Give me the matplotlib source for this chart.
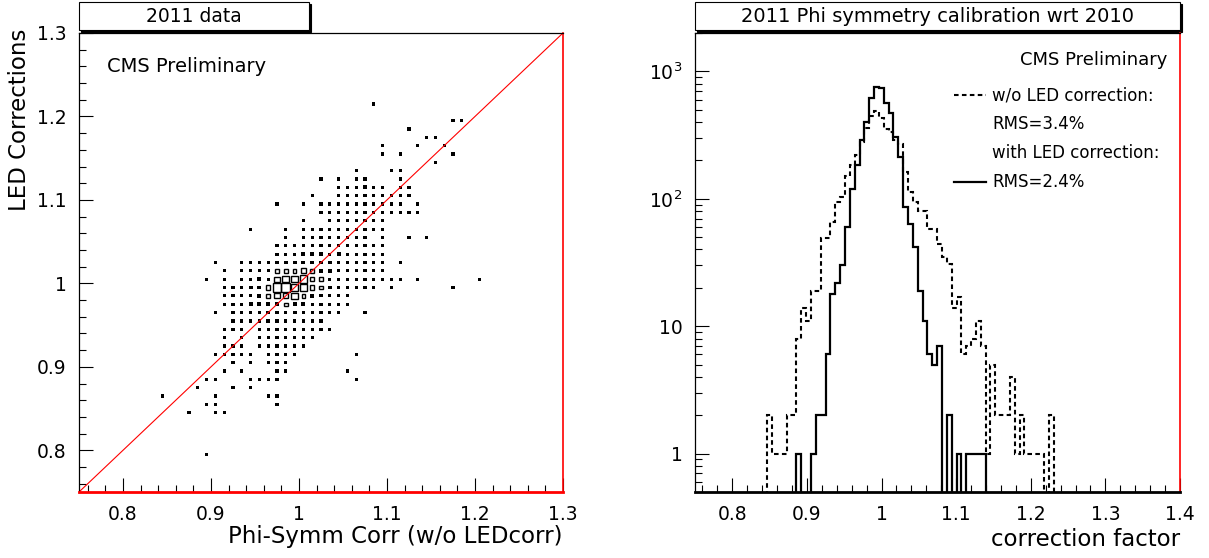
import matplotlib.pyplot as plt
import numpy as np
from matplotlib.patches import Rectangle
from matplotlib.collections import PatchCollection
from matplotlib.lines import Line2D
from matplotlib.ticker import MultipleLocator, FixedLocator, FixedFormatter, LogLocator, NullFormatter

plt.rcParams['font.family'] = ['DejaVu Sans']

# --- left panel: 2D histogram, 0.01 bins, code 97 -> bin 0.97..0.98 ---
# y bin code -> x bin codes of filled cells
cell_rows = {
    121: [108],
    119: [117, 118],
    118: [112],
    117: [114, 115],
    116: [109, 113, 116],
    115: [109, 111, 117],
    114: [115],
    113: [106, 110, 111],
    112: [102, 104, 106, 107, 111],
    111: [104, 105, 106, 107, 108, 109, 111, 112],
    110: [101, 104, 105, 106, 107, 108, 109, 110, 111, 112],
    109: [97, 100, 102, 103, 104, 105, 106, 107, 108, 109, 110, 111, 113],
    108: [102, 103, 104, 105, 106, 107, 108, 109, 110, 111, 112, 113],
    107: [100, 103, 104, 105, 106, 107, 108, 109],
    106: [94, 98, 100, 101, 102, 103, 104, 105, 106, 107, 108, 109],
    105: [98, 100, 101, 102, 103, 104, 105, 106, 107, 109, 112, 114],
    104: [97, 98, 99, 100, 101, 102, 103, 104, 105, 106, 107, 108, 109],
    103: [97, 98, 99, 100, 101, 102, 103, 104, 105, 106, 107, 108, 109],
    102: [90, 93, 94, 95, 96, 97, 98, 99, 100, 101, 102, 103, 104, 105, 106, 107, 108, 109, 111],
    101: [91, 93, 94, 95, 96, 97, 98, 99, 100, 101, 102, 103, 104, 105, 106, 107, 108, 109],
    100: [89, 91, 93, 94, 95, 96, 97, 98, 99, 100, 101, 102, 103, 104, 105, 106, 107, 108, 109,
          110, 111, 113, 120],
    99: [91, 92, 93, 94, 95, 96, 97, 98, 99, 100, 101, 102, 103, 104, 105, 106, 107, 108, 110, 117],
    98: [91, 92, 93, 94, 95, 96, 97, 98, 99, 100, 101, 102, 103, 104, 105],
    97: [91, 92, 93, 94, 95, 96, 97, 98, 99, 100, 101, 102, 103, 104, 105],
    96: [90, 92, 93, 94, 95, 96, 97, 98, 99, 100, 101, 102, 103, 104, 107],
    95: [92, 93, 94, 95, 96, 97, 98, 99, 100, 101, 102],
    94: [91, 92, 93, 95, 96, 97, 98, 99, 100, 101, 102, 103],
    93: [91, 93, 95, 96, 97, 98, 99, 100, 101],
    92: [91, 92, 93, 95, 96, 97, 98, 99, 100],
    91: [90, 91, 92, 93, 94, 96, 97, 98, 99, 106],
    90: [92, 94, 96, 97, 98],
    89: [91, 93, 97, 98, 105],
    88: [89, 90, 94, 95, 96, 97, 106],
    87: [88, 92, 94],
    86: [84, 90, 96, 97],
    85: [89, 90, 97],
    84: [87, 90, 91],
    79: [89],
}

# cells with more than one entry: (x code, y code) -> entries
cell_counts = {
    (107, 111): 2,
    (100, 103): 2, (101, 103): 2, (102, 103): 2, (104, 103): 2,
    (98, 102): 2, (99, 102): 2, (100, 102): 2, (101, 102): 2, (102, 102): 2, (103, 102): 2,
    (97, 101): 3, (98, 101): 3, (99, 101): 3, (100, 101): 5, (101, 101): 3, (102, 101): 2,
    (103, 101): 2,
    (95, 100): 2, (97, 100): 5, (98, 100): 7, (99, 100): 7, (100, 100): 8, (101, 100): 4,
    (102, 100): 3,
    (94, 99): 2, (95, 99): 2, (96, 99): 4, (97, 99): 9, (98, 99): 9, (99, 99): 8, (100, 99): 8,
    (101, 99): 4, (102, 99): 3, (103, 99): 2,
    (95, 98): 2, (96, 98): 3, (97, 98): 5, (98, 98): 5, (99, 98): 7, (100, 98): 3, (101, 98): 2,
    (94, 97): 2, (95, 97): 2, (96, 97): 2, (97, 97): 2, (98, 97): 3, (99, 97): 2, (100, 97): 2,
    (96, 96): 2, (97, 96): 2, (99, 96): 2,
    (96, 95): 2,
}

# --- right panel: 1D histograms (bins of 0.0065 starting at 0.8405) ---
bin_width = 0.0065
first_edge = 0.8405
counts_no_led = [0, 2, 1, 1, 1, 2, 2, 8, 14, 11, 19, 19, 49, 49, 66, 94, 103, 150, 184, 222,
                 280, 358, 449, 491, 430, 355, 336, 290, 270, 161, 114, 94, 80, 80, 58, 58, 44,
                 35, 31, 14, 17, 6, 7, 8, 11, 7, 1, 5, 2, 2, 2, 4, 1, 2, 1, 1, 1, 1, 0, 2, 0]
counts_with_led = [0, 0, 0, 0, 0, 0, 0, 1, 0, 0, 1, 2, 2, 6, 18, 22, 30, 60, 119, 185,
                   291, 398, 615, 758, 735, 562, 469, 307, 211, 86, 63, 42, 19, 11, 6, 5, 7,
                   0, 2, 0, 1, 0, 1, 1, 1, 1, 0, 0, 0, 0, 0, 0, 0, 0, 0, 0, 0, 0, 0, 0, 0]

fig = plt.figure(figsize=(12.09, 5.58), dpi=100)
ax1 = fig.add_axes([79 / 1209, 66 / 558, 484 / 1209, 459 / 558])
ax2 = fig.add_axes([695 / 1209, 66 / 558, 485 / 1209, 459 / 558])

# left: box plot of the 2D histogram (box side grows with the cell content)
small_boxes = []
big_boxes = []
for yc, xs in cell_rows.items():
    for xc in xs:
        n = cell_counts.get((xc, yc), 1)
        cx = (xc + 0.5) / 100
        cy = (yc + 0.5) / 100
        if n <= 2:
            # tiny boxes look solid in the original
            side = (0.38 + 0.08 * (n - 1)) * 0.01
            small_boxes.append(Rectangle((cx - side / 2, cy - side / 2), side, side))
        else:
            side = min(0.22 + 0.095 * (n - 1), 0.98) * 0.01
            big_boxes.append(Rectangle((cx - side / 2, cy - side / 2), side, side))
ax1.add_collection(PatchCollection(small_boxes, facecolors='black', edgecolors='none',
                                   linewidths=0))
ax1.add_collection(PatchCollection(big_boxes, facecolors='none', edgecolors='black',
                                   linewidths=1.0, joinstyle='miter'))
ax1.plot([0.75, 1.3], [0.75, 1.3], color='red', lw=0.8)

ax1.set_xlim(0.75, 1.3)
ax1.set_ylim(0.75, 1.3)
ticks = [0.8, 0.9, 1.0, 1.1, 1.2, 1.3]
tick_labels = ['0.8', '0.9', '1', '1.1', '1.2', '1.3']
ax1.set_xticks(ticks, tick_labels)
ax1.set_yticks(ticks, tick_labels)
ax1.xaxis.set_minor_locator(MultipleLocator(0.02))
ax1.yaxis.set_minor_locator(MultipleLocator(0.02))
ax1.set_xlabel('Phi-Symm Corr (w/o LEDcorr)', fontsize=16.5, ha='right')
ax1.xaxis.set_label_coords(1.0, -0.072)
ax1.set_ylabel('LED Corrections', fontsize=16.5, ha='right')
ax1.yaxis.set_label_coords(-0.10, 1.01)
ax1.text(0.057, 0.926, 'CMS Preliminary', transform=ax1.transAxes, fontsize=14, va='center')

# right: the two histograms
edges = first_edge + bin_width * np.arange(len(counts_no_led) + 1)
ax2.stairs(counts_no_led, edges, color='black', lw=1.5, linestyle=(0, (2.2, 1.6)))
ax2.stairs(counts_with_led, edges, color='black', lw=1.6)
ax2.set_yscale('log', nonpositive='clip')
ax2.set_xlim(0.75, 1.4)
ax2.set_ylim(0.5, 2000)
ax2.set_xticks([0.8, 0.9, 1.0, 1.1, 1.2, 1.3, 1.4],
               ['0.8', '0.9', '1', '1.1', '1.2', '1.3', '1.4'])
ax2.xaxis.set_minor_locator(MultipleLocator(0.02))
ax2.yaxis.set_major_locator(FixedLocator([1, 10, 100, 1000]))
ax2.yaxis.set_major_formatter(FixedFormatter(['1', '10', '$10^{2}$', '$10^{3}$']))
ax2.yaxis.set_minor_locator(LogLocator(base=10, subs=np.arange(2, 10), numticks=20))
ax2.yaxis.set_minor_formatter(NullFormatter())
ax2.set_xlabel('correction factor', fontsize=16.5, ha='right')
ax2.xaxis.set_label_coords(1.0, -0.078)
ax2.text(0.975, 0.941, 'CMS Preliminary', transform=ax2.transAxes, fontsize=13,
         ha='right', va='center')

handles = [Line2D([], [], color='black', lw=1.5, linestyle=(0, (2.2, 1.6))),
           Line2D([], [], color='none'),
           Line2D([], [], color='none'),
           Line2D([], [], color='black', lw=1.6)]
labels = ['w/o LED correction:', 'RMS=3.4%', 'with LED correction:', 'RMS=2.4%']
ax2.legend(handles, labels, loc='upper left', bbox_to_anchor=(0.52, 0.898), frameon=False,
           fontsize=12, handlelength=1.9, handletextpad=0.4, labelspacing=0.66,
           borderaxespad=0)

for ax in (ax1, ax2):
    ax.tick_params(which='both', direction='in', top=False, right=False, labelsize=13.5,
                   width=0.8)
    ax.tick_params(which='major', length=10, pad=9)
    ax.tick_params(which='minor', length=5)
    ax.spines['left'].set_linewidth(0.9)
    ax.spines['top'].set_linewidth(0.9)
    ax.spines['right'].set_color('red')
    ax.spines['right'].set_linewidth(1.2)

ax1.spines['bottom'].set_color('red')
ax1.spines['bottom'].set_linewidth(2.0)
ax2.spines['bottom'].set_linewidth(2.0)

# title boxes with ROOT-like shadow
for ax, width, title, size in ((ax1, 0.475, '2011 data', 13.5),
                               (ax2, 1.0, '2011 Phi symmetry calibration wrt 2010', 14)):
    y0 = 1.006
    h = 0.061
    ax.add_patch(Rectangle((0.004, y0 - 0.004), width, h, transform=ax.transAxes,
                           facecolor='black', edgecolor='black', lw=0.8, clip_on=False))
    ax.add_patch(Rectangle((0, y0), width, h, transform=ax.transAxes,
                           facecolor='white', edgecolor='black', lw=0.8, clip_on=False))
    ax.text(width / 2, y0 + h / 2, title, transform=ax.transAxes, fontsize=size,
            ha='center', va='center')

fig.savefig('out.png', dpi=100)
